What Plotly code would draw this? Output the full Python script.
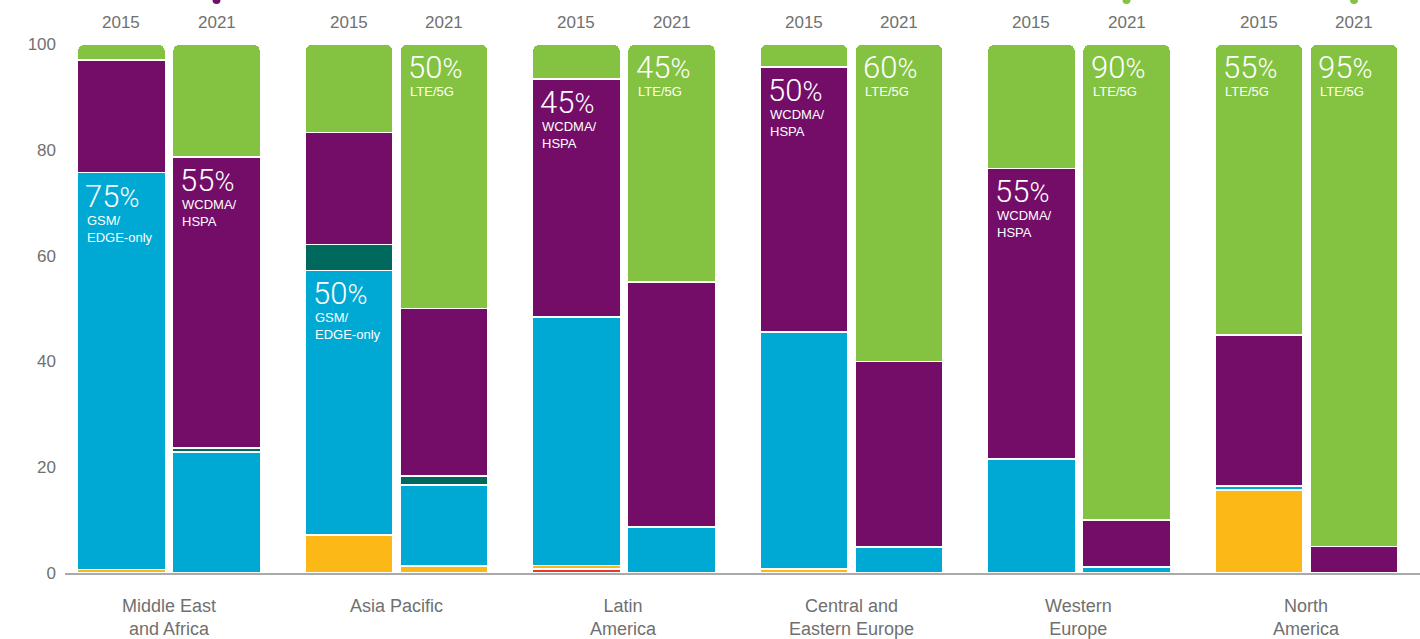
import plotly.graph_objects as go

# Regions and years
regions = ["Middle East<br>and Africa", "Asia Pacific", "Latin<br>America",
           "Central and<br>Eastern Europe", "Western<br>Europe", "North<br>America"]
years = ["2015", "2021"]

# Share of subscriptions by technology (%), one value per bar:
# order = region0-2015, region0-2021, region1-2015, ...
other    = [0.0, 0.0, 0.0, 0.0, 0.8, 0.0, 0.0, 0.0, 0.0, 0.0, 0.0, 0.0]
cdma     = [0.7, 0.0, 7.2, 1.3, 0.6, 0.0, 0.8, 0.0, 0.0, 0.0, 15.7, 0.0]
gsm_edge = [75.0, 22.9, 50.0, 15.3, 47.0, 8.7, 44.8, 4.9, 21.5, 1.1, 0.7, 0.0]
td_scdma = [0.0, 0.7, 4.9, 1.7, 0.0, 0.0, 0.0, 0.0, 0.0, 0.0, 0.0, 0.0]
wcdma    = [21.3, 55.0, 21.2, 31.7, 45.0, 46.3, 50.0, 35.1, 55.0, 8.9, 28.6, 5.0]
lte_5g   = [3.0, 21.4, 16.7, 50.0, 6.6, 45.0, 4.4, 60.0, 23.5, 90.0, 55.0, 95.0]

# Stack order bottom -> top
series = [
    ("Other", other, "#e8392b"),
    ("CDMA-only", cdma, "#fbb816"),
    ("GSM/EDGE-only", gsm_edge, "#00a9d4"),
    ("TD-SCDMA", td_scdma, "#00695e"),
    ("WCDMA/HSPA", wcdma, "#730d68"),
    ("LTE/5G", lte_5g, "#84c341"),
]

# Highlighted segments: (bar index, series name, caption)
callouts = [
    (0, "GSM/EDGE-only", "GSM/<br>EDGE-only"),
    (1, "WCDMA/HSPA", "WCDMA/<br>HSPA"),
    (2, "GSM/EDGE-only", "GSM/<br>EDGE-only"),
    (3, "LTE/5G", "LTE/5G"),
    (4, "WCDMA/HSPA", "WCDMA/<br>HSPA"),
    (5, "LTE/5G", "LTE/5G"),
    (6, "WCDMA/HSPA", "WCDMA/<br>HSPA"),
    (7, "LTE/5G", "LTE/5G"),
    (8, "WCDMA/HSPA", "WCDMA/<br>HSPA"),
    (9, "LTE/5G", "LTE/5G"),
    (10, "LTE/5G", "LTE/5G"),
    (11, "LTE/5G", "LTE/5G"),
]

# Small markers peeking in at the top edge: (bar index, colour)
top_dots = [(1, "#730d68"), (9, "#84c341"), (11, "#84c341")]

OFFSET = 0.209
WIDTH = 0.387
xpos = []
for i in range(len(regions)):
    xpos += [i - OFFSET, i + OFFSET]

FONT = "Liberation Sans, Arial, sans-serif"
NUM_FONT = "Roboto, Liberation Sans, sans-serif"
GREY = "#707070"

fig = go.Figure()
for name, vals, color in series:
    fig.add_trace(go.Bar(
        x=xpos, y=vals, name=name, width=WIDTH,
        marker=dict(color=color, line=dict(color="white", width=1.6)),
        hoverinfo="name+y", showlegend=False,
    ))

# Cumulative tops of each segment
names = [s[0] for s in series]
tops = {}
run = [0.0] * len(xpos)
for name, vals, _ in series:
    run = [r + v for r, v in zip(run, vals)]
    tops[name] = list(run)

annotations = []
for b, name, caption in callouts:
    vals = series[names.index(name)][1]
    top = tops[name][b]
    left = xpos[b] - WIDTH / 2
    annotations.append(dict(
        x=left, y=top, xref="x", yref="y", xanchor="left", yanchor="top",
        xshift=6, yshift=-3, showarrow=False, align="left",
        text=f"{round(vals[b])}<span style='font-size:27px'>%</span>",
        font=dict(family=NUM_FONT, size=31, color="white", weight=300),
    ))
    annotations.append(dict(
        x=left, y=top, xref="x", yref="y", xanchor="left", yanchor="top",
        xshift=8, yshift=-38, showarrow=False, align="left",
        text=caption,
        font=dict(family=FONT, size=13, color="white"),
    ))

for i, region in enumerate(regions):
    for j, yr in enumerate(years):
        annotations.append(dict(
            x=xpos[2 * i + j], y=1, xref="x", yref="paper",
            yanchor="middle", yshift=22, showarrow=False, text=yr,
            font=dict(family=FONT, size=17, color=GREY),
        ))
    annotations.append(dict(
        x=i, y=0, xref="x", yref="paper", yanchor="top", yshift=-21,
        showarrow=False, text=region,
        font=dict(family=FONT, size=18, color=GREY),
    ))

shapes = []
for b, color in top_dots:
    shapes.append(dict(
        type="circle", xref="x", yref="paper", xsizemode="pixel", ysizemode="pixel",
        xanchor=xpos[b], yanchor=1, x0=-4, x1=4, y0=40, y1=48,
        fillcolor=color, line=dict(width=0),
    ))

fig.update_layout(
    width=1420, height=639,
    margin=dict(l=65, r=0, t=44, b=66),
    barmode="stack", barcornerradius=7,
    plot_bgcolor="white", paper_bgcolor="white",
    annotations=annotations, shapes=shapes,
    xaxis=dict(range=[-0.457, 5.499], showgrid=False, zeroline=False,
               showticklabels=False, showline=True, linecolor="#aaaaaa",
               linewidth=2, fixedrange=True),
    yaxis=dict(range=[0, 100], tickvals=[0, 20, 40, 60, 80, 100],
               showgrid=False, zeroline=False, showline=False,
               tickfont=dict(family=FONT, size=17, color=GREY),
               ticklabelstandoff=8, fixedrange=True),
)

fig.write_html("out.html")
